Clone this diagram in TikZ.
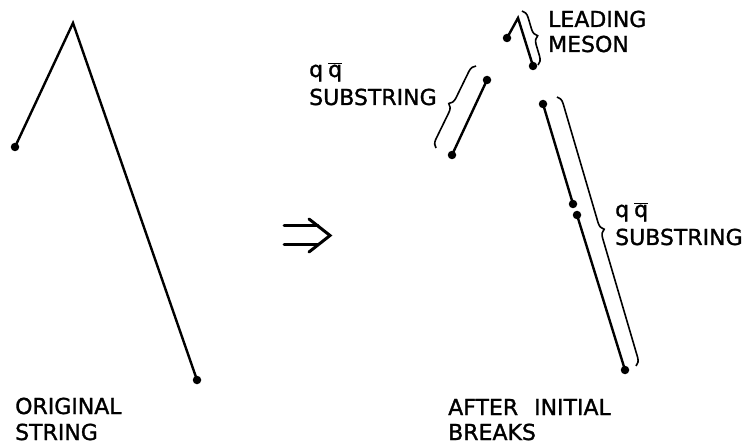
\documentclass[tikz,border=0pt]{standalone}
\usepackage{fontspec}
\setmainfont{DejaVu Sans}
\newfontfamily\letterfont[BoldFont={DejaVu Sans}, BoldFeatures={FakeBold=1.3}]{DejaVu Sans}
\usetikzlibrary{decorations.pathreplacing}
\begin{document}
\begin{tikzpicture}[x=1pt,y=-1pt,
  strline/.style={line width=2.4pt, line join=miter, black},
  dotmark/.style={circle, fill=black, inner sep=0pt, minimum size=8.5pt},
  bracemark/.style={line width=1.6pt, decorate, decoration={brace, amplitude=8pt}},
  lbl/.style={anchor=base west, inner sep=0pt, font=\letterfont\bfseries\fontsize{22}{22}\selectfont},
  arrowline/.style={line width=3pt, line cap=round, line join=miter}]
\useasboundingbox (0,0) rectangle (749,446);

% original string
\node[dotmark] (o1) at (15,147) {};
\coordinate (o2) at (73,23);
\node[dotmark] (o3) at (197,380) {};
\draw[strline] (o1.center) -- (o2) -- (o3.center);
\node[lbl] (orig1) at (15,414) {ORIGINAL};
\node[lbl] (orig2) at (15,440) {STRING};

% implication arrow
\coordinate (a1) at (284,226);
\coordinate (a2) at (318,226);
\coordinate (a3) at (284,245);
\coordinate (a4) at (318,245);
\coordinate (c1) at (309,219);
\coordinate (c2) at (330,235.5);
\coordinate (c3) at (309,252);
\draw[arrowline] (a1) -- (a2);
\draw[arrowline] (a3) -- (a4);
\draw[arrowline] (c1) -- (c2) -- (c3);

% leading meson
\node[dotmark] (m1) at (507,38) {};
\coordinate (m2) at (518,18);
\node[dotmark] (m3) at (533,66) {};
\draw[strline] (m1.center) -- (m2) -- (m3.center);
\coordinate (mb1) at (522,11);
\coordinate (mb2) at (538,65);
\draw[bracemark] (mb1) -- (mb2);
\node[lbl] (lead1) at (548,27) {LEADING};
\node[lbl] (lead2) at (548,52) {MESON};

% left substring
\node[dotmark] (s1) at (487,80) {};
\node[dotmark] (s2) at (452,155) {};
\draw[strline] (s1.center) -- (s2.center);
\coordinate (lb1) at (436,148);
\coordinate (lb2) at (476,66);
\draw[bracemark] (lb1) -- (lb2);
\node[lbl] (lq) at (309,77) {q\kern5pt$\overline{\hbox{q}}$};
\node[lbl] (ls) at (309,105) {SUBSTRING};

% right substring
\node[dotmark] (r1) at (543,104) {};
\node[dotmark] (r2) at (573,204) {};
\node[dotmark] (r3) at (577,215) {};
\node[dotmark] (r4) at (625,370) {};
\draw[strline] (r1.center) -- (r2.center);
\draw[strline] (r3.center) -- (r4.center);
\coordinate (rb1) at (557,97);
\coordinate (rb2) at (636,366);
\draw[bracemark] (rb1) -- (rb2);
\node[lbl] (rq) at (615,217) {q\kern5pt$\overline{\hbox{q}}$};
\node[lbl] (rs) at (615,245) {SUBSTRING};

\node[lbl] (after1) at (448,415) {AFTER\hspace{9pt} INITIAL};
\node[lbl] (after2) at (448,440) {BREAKS};
\end{tikzpicture}
\end{document}
